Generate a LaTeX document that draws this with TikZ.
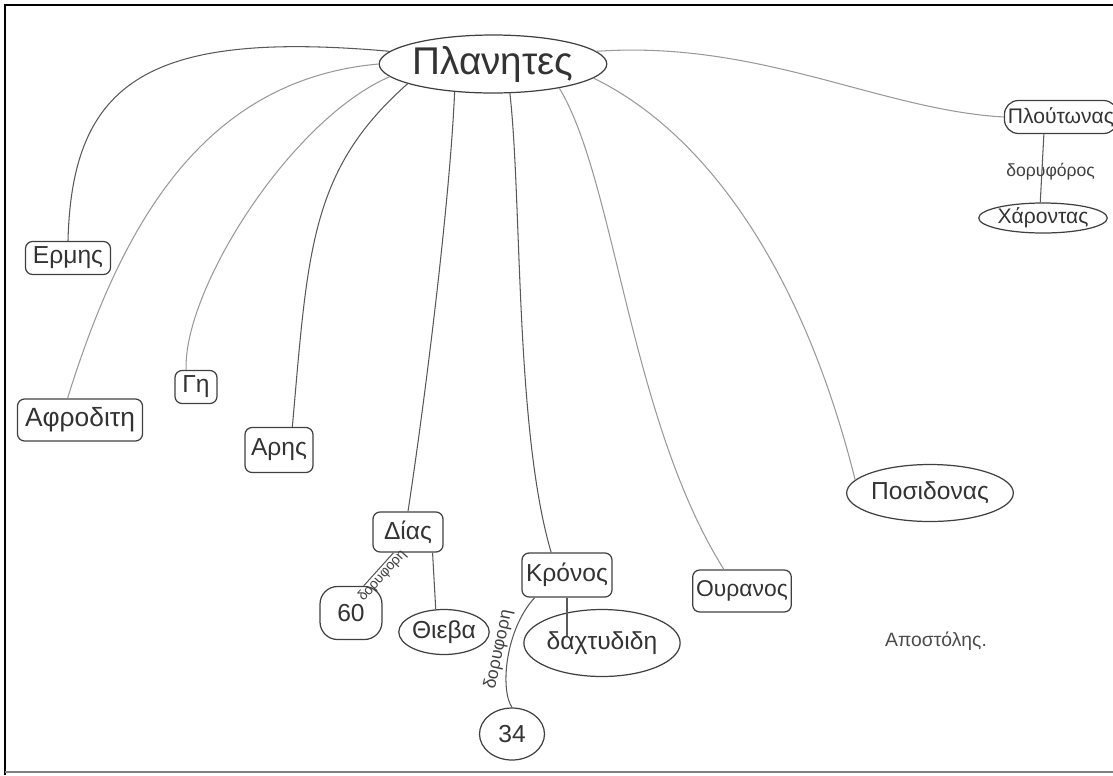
\documentclass[tikz,border=0pt]{standalone}
\usepackage{fontspec}
\setmainfont{Liberation Sans}
\usetikzlibrary{shapes.geometric}

\tikzset{
  pencil/.style={draw=black!65, line width=0.6pt},
  faintpencil/.style={draw=black!40, line width=0.6pt},
  planetbox/.style={draw=black!75, line width=0.7pt, rounded corners=4pt, inner sep=2pt,
    text=black!80, font=\fontsize{14}{16}\selectfont},
  planetoval/.style={draw=black!75, line width=0.7pt, ellipse, inner sep=0pt,
    text=black!80, font=\fontsize{14}{16}\selectfont},
  linklabel/.style={font=\fontsize{10}{11}\selectfont, text=black!75, inner sep=1pt},
}

\begin{document}
\begin{tikzpicture}[x=0.02cm, y=-0.02cm]
  \useasboundingbox (0,0) rectangle (1113,775);
  % sheet frame
  \draw[line width=1.6pt] (5,775) -- (5,5) -- (1113,5);
  \draw[black!50, line width=1.2pt] (5,772) -- (1113,772);

  % centre
  \node[planetoval, minimum width=4.1cm, minimum height=1.16cm,
        font=\fontsize{22}{24}\selectfont] (planets) at (493,64) {Πλανητες};

  % planets
  \node[planetbox, minimum width=1.7cm, minimum height=0.66cm] (ermis) at (68,258) {Ερμης};
  \node[planetbox, minimum width=2.5cm, minimum height=0.84cm, font=\fontsize{15}{17}\selectfont] (afroditi) at (80,420) {Αφροδιτη};
  \node[planetbox, minimum width=0.84cm, minimum height=0.66cm] (gi) at (196,387) {Γη};
  \node[planetbox, minimum width=1.36cm, minimum height=0.9cm] (aris) at (279,450) {Αρης};
  \node[planetbox, minimum width=1.4cm, minimum height=0.8cm] (dias) at (408,532) {Δίας};
  \node[planetbox, minimum width=1.8cm, minimum height=0.88cm] (kronos) at (567,575) {Κρόνος};
  \node[planetbox, minimum width=1.94cm, minimum height=0.84cm, font=\fontsize{13}{15}\selectfont] (uranos) at (742,591) {Ουρανος};
  \node[planetoval, minimum width=3.1cm, minimum height=1.14cm] (posidonas) at (930,493) {Ποσιδονας};
  \node[planetbox, rounded corners=8pt, minimum width=1.96cm, minimum height=0.66cm,
        font=\fontsize{12}{14}\selectfont] (plutonas) at (1061,117) {Πλούτωνας};

  % moons and ring
  \node[planetbox, rounded corners=10pt, minimum width=1.24cm, minimum height=1.06cm] (moon60) at (351,613) {60};
  \node[planetoval, minimum width=1.36cm, minimum height=0.9cm] (thieva) at (444,632) {Θιεβα};
  \node[planetoval, minimum width=2.78cm, minimum height=1.34cm] (ring) at (602,643) {δαχτυδιδη};
  \node[planetoval, minimum width=1.3cm, minimum height=1.04cm] (moon34) at (512,734) {34};
  \node[planetoval, minimum width=2.18cm, minimum height=0.6cm,
        font=\fontsize{12}{14}\selectfont] (charontas) at (1043,218) {Χάροντας};

  % signature
  \node[font=\fontsize{11}{12}\selectfont, text=black!70] (author) at (936,641) {Αποστόλης.};

  % links from the centre
  \draw[pencil] (ermis.north) .. controls (72,80) and (150,30) .. (planets.173);
  \draw[faintpencil] (afroditi.120) .. controls (120,230) and (200,80) .. (planets.180);
  \draw[faintpencil] (gi.120) .. controls (183,290) and (290,120) .. (planets.187);
  \draw[pencil] (aris.60) .. controls (308,250) and (310,170) .. (planets.193);
  \draw[pencil] (dias.north) .. controls (425,400) and (450,200) .. (planets.216);
  \draw[pencil] (kronos.125) .. controls (515,430) and (522,200) .. (planets.300);
  \draw[faintpencil] (uranos.130) .. controls (630,420) and (615,180) .. (planets.340);
  \draw[faintpencil] (posidonas.170) .. controls (800,260) and (700,130) .. (planets.352);
  \draw[faintpencil] (planets.7) .. controls (760,40) and (880,110) .. (plutonas.west);

  % satellites
  \draw[pencil] (moon60.65) -- (dias.235)
    node[linklabel, pos=0.45, sloped, below, inner sep=0pt, font=\fontsize{8}{9}\selectfont] {δορυφορη};
  \draw[pencil] (dias.320) -- (thieva.110);
  \draw[pencil] (kronos.south) -- (kronos.south |- ring.175);
  \draw[pencil] (moon34.north) .. controls (500,690) and (505,630) .. (kronos.215)
    node[linklabel, pos=0.55, sloped, above] {δορυφορη};
  \draw[pencil] (plutonas.225) -- (charontas.100)
    node[linklabel, pos=0.55, xshift=5pt] {δορυφόρος};
\end{tikzpicture}
\end{document}
